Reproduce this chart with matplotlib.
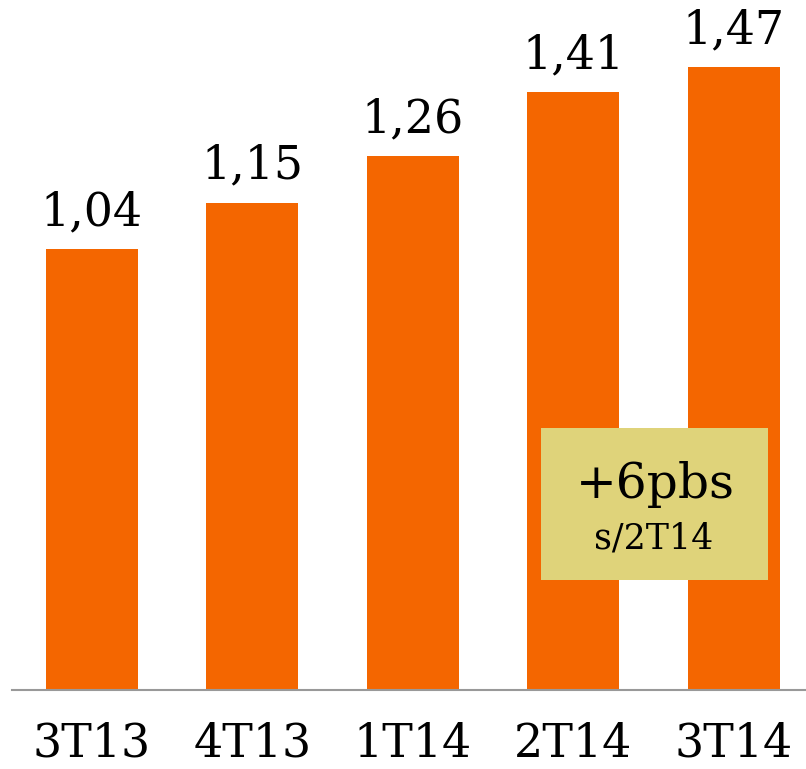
import matplotlib.pyplot as plt
from matplotlib.patches import Rectangle

quarters = ['3T13', '4T13', '1T14', '2T14', '3T14']
values = [1.04, 1.15, 1.26, 1.41, 1.47]
value_labels = ['1,04', '1,15', '1,26', '1,41', '1,47']

orange = '#F46600'
box_color = '#DFD37A'

fig = plt.figure(figsize=(8.06, 7.69), dpi=100)
ax = fig.add_axes([12 / 806, 79 / 769, 794 / 806, 690 / 769])

x = range(len(quarters))
bars = ax.bar(x, values, width=0.573, color=orange, zorder=2)

for bar, lab in zip(bars, value_labels):
    ax.annotate(lab, (bar.get_x() + bar.get_width() / 2, bar.get_height()),
                xytext=(0, 10), textcoords='offset points',
                ha='center', va='bottom', fontsize=33,
                family='DejaVu Serif', color='black')

ax.set_xlim(-0.498, 4.449)
ax.set_ylim(0, 1.628)

for side in ['top', 'right', 'left']:
    ax.spines[side].set_visible(False)
ax.spines['bottom'].set_color('#999999')
ax.spines['bottom'].set_linewidth(1.5)
ax.set_yticks([])
ax.set_xticks(list(x))
ax.set_xticklabels(quarters, fontsize=33, family='DejaVu Serif')
ax.tick_params(axis='x', length=0, pad=22.5)

# highlight box for quarter-on-quarter change
fig.patches.append(Rectangle((541 / 806, 189 / 769), 227 / 806, 152 / 769,
                             transform=fig.transFigure, facecolor=box_color,
                             edgecolor='none', zorder=3))
fig.text(655 / 806, 1 - 484 / 769, '+6pbs', ha='center', va='center',
         fontsize=35, family='DejaVu Serif', zorder=4)
fig.text(654 / 806, 1 - 538 / 769, 's/2T14', ha='center', va='center',
         fontsize=25, family='DejaVu Serif', zorder=4)

fig.savefig('out.png', dpi=100)
